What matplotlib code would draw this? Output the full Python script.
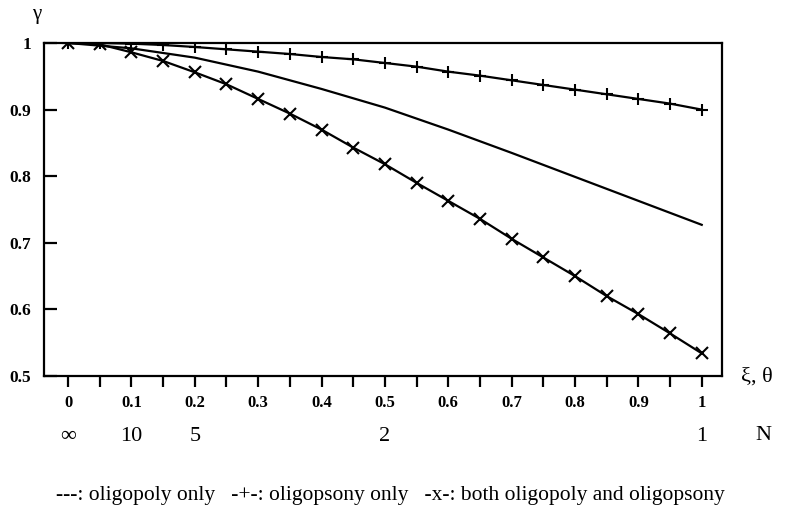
import matplotlib
matplotlib.use("Agg")
import matplotlib.pyplot as plt
import numpy as np

plt.rcParams['font.family'] = ['Liberation Serif', 'DejaVu Serif']

# data
x_fine = [0.0, 0.05, 0.1, 0.15, 0.2, 0.25, 0.3, 0.35, 0.4, 0.45, 0.5,
          0.55, 0.6, 0.65, 0.7, 0.75, 0.8, 0.85, 0.9, 0.95, 1.0]
oligopsony = [1.0, 1.0, 0.999, 0.997, 0.994, 0.9905, 0.987, 0.9835, 0.979, 0.9755, 0.970,
              0.9645, 0.957, 0.951, 0.944, 0.937, 0.930, 0.923, 0.916, 0.909, 0.900]
both = [1.0, 0.998, 0.986, 0.973, 0.956, 0.938, 0.916, 0.894, 0.870, 0.843, 0.818,
        0.790, 0.763, 0.736, 0.706, 0.678, 0.650, 0.620, 0.593, 0.564, 0.534]
x_coarse = [0.0, 0.1, 0.2, 0.3, 0.4, 0.5, 0.6, 0.7, 0.8, 0.9, 1.0]
oligopoly = [1.0, 0.992, 0.978, 0.957, 0.931, 0.903, 0.870, 0.835, 0.799, 0.763, 0.727]

xtick_major = [0, 0.1, 0.2, 0.3, 0.4, 0.5, 0.6, 0.7, 0.8, 0.9, 1]
xtick_labels = ['0', '0.1', '0.2', '0.3', '0.4', '0.5', '0.6', '0.7', '0.8', '0.9', '1']
ytick_vals = [0.5, 0.6, 0.7, 0.8, 0.9, 1.0]
ytick_labels = ['0.5', '0.6', '0.7', '0.8', '0.9', '1']
n_pos = [0.0, 0.1, 0.2, 0.5, 1.0]
n_labels = ['∞', '10', '5', '2', '1']

fig = plt.figure(figsize=(7.9, 5.11), dpi=100)
ax = fig.add_axes([44/790, 1 - 376/511, (722-44)/790, (376-43)/511])

lw = 1.6
ax.plot(x_coarse, oligopoly, color='black', lw=lw)
ax.plot(x_fine, oligopsony, color='black', lw=lw, marker='+', markersize=9, markeredgewidth=1.5)
ax.plot(x_fine, both, color='black', lw=lw, marker='x', markersize=8, markeredgewidth=1.5)

ax.set_xlim(-0.038, 1.032)
ax.set_ylim(0.5, 1.0)

for s in ax.spines.values():
    s.set_linewidth(1.6)

ax.set_xticks(xtick_major)
ax.set_xticklabels(xtick_labels, fontweight='bold', fontsize=12)
ax.set_xticks(np.arange(0.05, 1.0, 0.1), minor=True)
ax.tick_params(axis='x', which='both', direction='out', length=8, width=1.6, pad=5.5)
ax.set_yticks(ytick_vals)
ax.set_yticklabels(ytick_labels, fontweight='bold', fontsize=12.5)
ax.tick_params(axis='y', which='both', direction='in', length=9, width=1.6, pad=9)
ax.tick_params(top=False, right=False)

# N row
for p, lab in zip(n_pos, n_labels):
    ax.annotate(lab, xy=(p, 0), xycoords=('data', 'figure pixels'),
                xytext=(0, 511 - 436), textcoords='offset pixels',
                ha='center', va='center', fontsize=16)

fig.text(763/790, 1 - 436/511, 'N', ha='center', va='center', fontsize=16)
fig.text(757/790, 1 - 377/511, 'ξ, θ', ha='center', va='center', fontsize=16)
fig.text(37/790, 1 - 14/511, 'γ', ha='center', va='center', fontsize=15)
fig.text(390/790, 1 - 495/511,
         '---: oligopoly only   -+-: oligopsony only   -x-: both oligopoly and oligopsony',
         ha='center', va='center', fontsize=15.5)

fig.savefig('out.png', dpi=100)
